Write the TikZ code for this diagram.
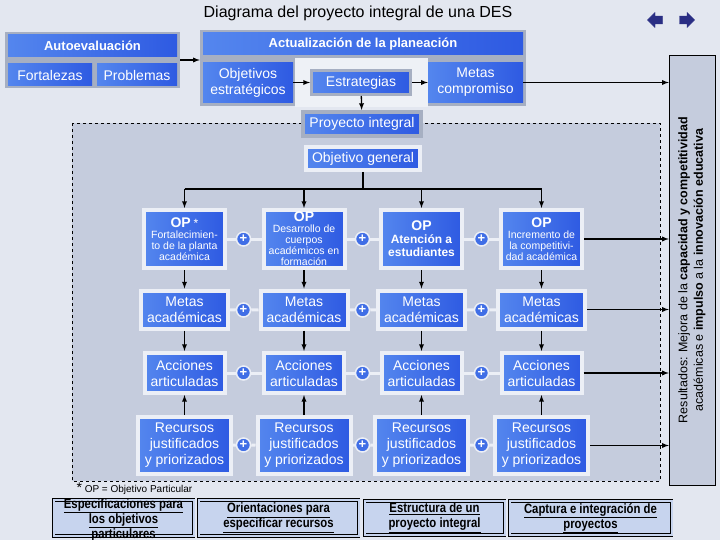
\documentclass[tikz,border=0pt]{standalone}
\usepackage{fontspec}
\setmainfont{Liberation Sans}
\newfontfamily\estrecha[FakeStretch=0.84]{Liberation Sans}
\usetikzlibrary{arrows,shapes.arrows}
\definecolor{fondo}{RGB}{227,231,240}
\definecolor{panel}{RGB}{197,204,221}
\definecolor{marco}{RGB}{166,175,194}
\definecolor{blanco}{RGB}{236,239,246}
\definecolor{azul}{RGB}{64,110,230}
\definecolor{azulc}{RGB}{84,134,238}
\definecolor{azulo}{RGB}{46,90,226}
\definecolor{boton}{RGB}{199,212,238}
\definecolor{marino}{RGB}{42,46,132}

\begin{document}
\begin{tikzpicture}[x=1pt,y=-1pt]
\tikzstyle{caja}=[left color=azulc,right color=azulo,text=white,align=center,inner sep=1pt,font=\fontsize{14}{16}\selectfont]
\tikzstyle{titcaja}=[caja,font=\bfseries\fontsize{13}{15}\selectfont]
\tikzstyle{grismarco}=[draw=marco,line width=3pt]
\tikzstyle{blancomarco}=[draw=blanco,line width=4pt]
\tikzstyle{opcaja}=[caja,blancomarco,minimum width=81,minimum height=58,inner sep=0pt,font=\fontsize{10.5}{11}\selectfont]
\tikzstyle{metcaja}=[caja,blancomarco,minimum width=87,minimum height=38]
\tikzstyle{acccaja}=[caja,blancomarco,minimum width=80,minimum height=40]
\tikzstyle{reccaja}=[caja,blancomarco,minimum width=93,minimum height=57]
\tikzstyle{mas}=[circle,fill=azul,draw=blanco,line width=1.5pt,minimum size=14,inner sep=0,text=white,font=\bfseries\fontsize{13}{13}\selectfont]
\tikzstyle{union}=[draw=blanco,line width=3pt]
\tikzstyle{flecha}=[-latex,line width=1.3pt]
\tikzstyle{boton}=[draw=black,line width=0.8pt,double=boton,double distance=2pt,fill=boton]
\tikzstyle{botontexto}=[align=center,font=\estrecha\bfseries\fontsize{13.5}{15}\selectfont]
\tikzstyle{navega}=[single arrow,fill=marino,draw=marino,minimum height=15,minimum width=15,single arrow head extend=1.5pt,inner sep=1.5pt]

\fill[fondo] (0,0) rectangle (720,540);
\useasboundingbox (0,0) rectangle (720,540);

% titulo y navegacion
\node[font=\fontsize{16}{18}\selectfont] (titulo) at (358,13) {Diagrama del proyecto integral de una DES};
\node[navega,shape border rotate=180] (atras) at (657,20) {};
\node[navega] (adelante) at (685,20) {};

% autoevaluacion
\node[fill=marco,minimum width=175,minimum height=56] (autoeval) at (92.5,60) {};
\node[titcaja,minimum width=169,minimum height=22] (autoev) at (92.5,46) {Autoevaluación};
\node[caja,minimum width=84,minimum height=22] (fortal) at (50,75) {Fortalezas};
\node[caja,minimum width=80,minimum height=22] (proble) at (137,75) {Problemas};

% actualizacion de la planeacion
\node[fill=marco,minimum width=326,minimum height=76] (actual) at (363,68) {};
\fill[fondo!60!white] (295,58) rectangle (428,107);
\node[titcaja,minimum width=320,minimum height=22] (actualtit) at (363,44) {Actualización de la planeación};
\node[caja,minimum width=90,minimum height=40] (objest) at (248,82.5) {Objetivos\\estratégicos};
\node[caja,grismarco,minimum width=99,minimum height=24] (estrat) at (361,82.5) {Estrategias};
\node[caja,minimum width=95,minimum height=40] (metcomp) at (475.5,82.5) {Metas\\compromiso};

% zona del proyecto
\draw[dashed,fill=panel] (72,123) rectangle (660,481);
\node[caja,draw=marco,line width=4pt,minimum width=118,minimum height=24] (proyint) at (362,124) {Proyecto integral};
\node[caja,blancomarco,minimum width=114,minimum height=23] (objgen) at (363,158.5) {Objetivo general};
\coordinate (rama) at (363,189);

% objetivos particulares
\node[opcaja] (op1) at (184.5,239) {{\bfseries\fontsize{14}{15}\selectfont OP} {\fontsize{12}{12}\selectfont *}\\Fortalecimien-\\to de la planta\\académica};
\node[opcaja] (op2) at (304,239) {{\bfseries\fontsize{14}{15}\selectfont OP}\\Desarrollo de\\cuerpos\\académicos en\\formación};
\node[opcaja,font=\bfseries\fontsize{12}{13}\selectfont] (op3) at (421.5,239) {{\fontsize{14}{15}\selectfont OP}\\Atención a\\estudiantes};
\node[opcaja] (op4) at (541.5,239) {{\bfseries\fontsize{14}{15}\selectfont OP}\\Incremento de\\la competitivi-\\dad académica};

\node[metcaja] (met1) at (184.5,309.5) {Metas\\académicas};
\node[metcaja] (met2) at (304,309.5) {Metas\\académicas};
\node[metcaja] (met3) at (421.5,309.5) {Metas\\académicas};
\node[metcaja] (met4) at (541.5,309.5) {Metas\\académicas};

\node[acccaja] (acc1) at (184.5,373) {Acciones\\articuladas};
\node[acccaja] (acc2) at (304,373) {Acciones\\articuladas};
\node[acccaja] (acc3) at (421.5,373) {Acciones\\articuladas};
\node[acccaja] (acc4) at (541.5,373) {Acciones\\articuladas};

\node[reccaja] (rec1) at (184.5,445.5) {Recursos\\justificados\\y priorizados};
\node[reccaja] (rec2) at (304,445.5) {Recursos\\justificados\\y priorizados};
\node[reccaja] (rec3) at (421.5,445.5) {Recursos\\justificados\\y priorizados};
\node[reccaja] (rec4) at (541.5,445.5) {Recursos\\justificados\\y priorizados};

% signos de suma
\node[mas] (mas11) at (243.5,239) {+};
\node[mas] (mas12) at (362.5,239) {+};
\node[mas] (mas13) at (481.5,239) {+};
\node[mas] (mas21) at (243.5,310) {+};
\node[mas] (mas22) at (362.5,310) {+};
\node[mas] (mas23) at (481.5,310) {+};
\node[mas] (mas31) at (243.5,373) {+};
\node[mas] (mas32) at (362.5,373) {+};
\node[mas] (mas33) at (481.5,373) {+};
\node[mas] (mas41) at (243.5,445) {+};
\node[mas] (mas42) at (362.5,445) {+};
\node[mas] (mas43) at (481.5,445) {+};

\draw[union] (op1) -- (mas11) -- (op2) -- (mas12) -- (op3) -- (mas13) -- (op4);
\draw[union] (met1) -- (mas21) -- (met2) -- (mas22) -- (met3) -- (mas23) -- (met4);
\draw[union] (acc1) -- (mas31) -- (acc2) -- (mas32) -- (acc3) -- (mas33) -- (acc4);
\draw[union] (rec1) -- (mas41) -- (rec2) -- (mas42) -- (rec3) -- (mas43) -- (rec4);

% resultados
\node[draw=black,fill=panel,rotate=90,minimum width=430,minimum height=46,align=center,font=\fontsize{12.5}{15.5}\selectfont] (result) at (692,270) {Resultados: Mejora de la \textbf{capacidad y competitividad}\\académicas e \textbf{impulso} a la \textbf{innovación educativa}};

% flechas
\draw[flecha] (autoeval) -- (autoeval -| actual.west);
\draw[flecha] (objest) -- (estrat);
\draw[flecha] (estrat) -- (metcomp);
\draw[flecha] (estrat) -- (proyint);
\draw[flecha] (metcomp) -- (metcomp -| result.north);
\draw[line width=1.5pt] (objgen) -- (rama);
\draw[line width=1.5pt] (rama -| op1) -- (rama -| op4);
\draw[flecha] (rama -| op1) -- (op1);
\draw[flecha] (rama -| op2) -- (op2);
\draw[flecha] (rama -| op3) -- (op3);
\draw[flecha] (rama -| op4) -- (op4);
\draw[flecha] (op1) -- (met1);
\draw[flecha] (op2) -- (met2);
\draw[flecha] (op3) -- (met3);
\draw[flecha] (op4) -- (met4);
\draw[flecha] (met1) -- (acc1);
\draw[flecha] (met2) -- (acc2);
\draw[flecha] (met3) -- (acc3);
\draw[flecha] (met4) -- (acc4);
\draw[flecha] (rec1) -- (acc1);
\draw[flecha] (rec2) -- (acc2);
\draw[flecha] (rec3) -- (acc3);
\draw[flecha] (rec4) -- (acc4);
\draw[flecha] (op4) -- (op4 -| result.north);
\draw[flecha] (met4) -- (met4 -| result.north);
\draw[flecha] (acc4) -- (acc4 -| result.north);
\draw[flecha] (rec4) -- (rec4 -| result.north);

% nota y botones
\node[anchor=west,font=\fontsize{10}{12}\selectfont] (nota) at (73,488.5) {{\fontsize{14}{12}\selectfont *} OP = Objetivo Particular};
\node[boton,minimum width=140,minimum height=36] (espec) at (123.5,518) {};
\node[botontexto] (espectxt) at (123.5,521) {\underline{Especificaciones para}\\\underline{los objetivos}\\\underline{particulares}};
\node[boton,minimum width=160,minimum height=36] (orient) at (278.5,518) {};
\node[botontexto] (orienttxt) at (orient) {\underline{Orientaciones para}\\\underline{especificar recursos}};
\node[boton,minimum width=140,minimum height=34] (estruc) at (434.5,518) {};
\node[botontexto] (estructxt) at (estruc) {\underline{Estructura de un}\\\underline{proyecto integral}};
\node[boton,minimum width=162,minimum height=34] (captura) at (590.5,518) {};
\node[botontexto] (capturatxt) at (captura) {\underline{Captura e integración de}\\\underline{proyectos}};
\end{tikzpicture}
\end{document}
